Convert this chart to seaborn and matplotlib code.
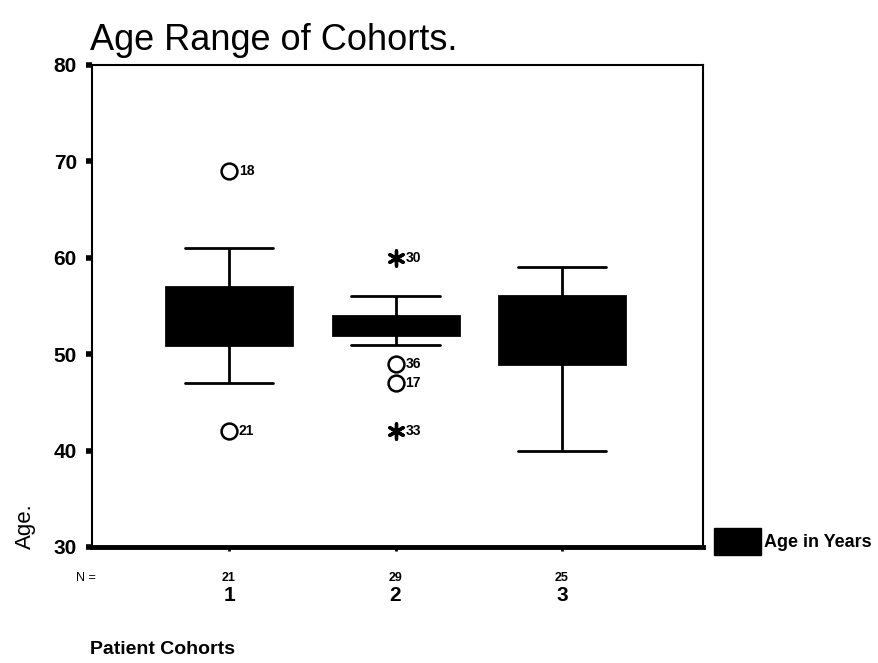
import pandas as pd
import matplotlib.pyplot as plt
from matplotlib.patches import Patch
import seaborn as sns

# ----------- DATA ------------
cohorts = ['1', '2', '3']

# ages per cohort (N = 21 / 29 / 25)
ages_1 = [42, 47, 48, 49, 50, 51, 52, 53, 53, 54, 54, 55, 55, 56, 56,
          57, 58, 59, 60, 61, 69]
ages_2 = [42, 47, 49, 51, 51, 52, 52, 52, 52, 53, 53, 53, 53, 53, 53,
          53, 53, 54, 54, 54, 54, 54, 54, 55, 55, 55, 56, 56, 60]
ages_3 = [40, 43, 45, 46, 47, 48, 49, 50, 51, 52, 52, 53, 53, 54, 54,
          55, 55, 55, 56, 57, 57, 58, 58, 59, 59]

# outliers (circles) and extremes (stars) with their case numbers
outlier_cohort = ['1', '1', '2', '2']
outlier_age = [69, 42, 49, 47]
outlier_case = ['18', '21', '36', '17']

extreme_cohort = ['2', '2']
extreme_age = [60, 42]
extreme_case = ['30', '33']

y_ticks = [30, 40, 50, 60, 70, 80]

# ----------- FIGURE ------------
sns.set_style('white')
plt.rcParams['font.family'] = ['Liberation Sans', 'DejaVu Sans']
plt.rcParams['text.color'] = 'black'
plt.rcParams['xtick.color'] = 'black'
plt.rcParams['ytick.color'] = 'black'
plt.rcParams['axes.labelcolor'] = 'black'

df = pd.DataFrame({
    'cohort': ['1'] * len(ages_1) + ['2'] * len(ages_2) + ['3'] * len(ages_3),
    'age': ages_1 + ages_2 + ages_3,
})
df_out = pd.DataFrame({'cohort': outlier_cohort, 'age': outlier_age})
df_ext = pd.DataFrame({'cohort': extreme_cohort, 'age': extreme_age})

fig = plt.figure(figsize=(8.79, 6.63), dpi=100)
ax = fig.add_axes([0.1047, 0.175, 0.6951, 0.727])

sns.boxplot(data=df, x='cohort', y='age', order=cohorts, ax=ax,
            width=0.757, whis=1.4, showfliers=False, color='black',
            linecolor='black', linewidth=2, saturation=1, capwidths=0.53)

sns.scatterplot(data=df_out, x='cohort', y='age', ax=ax, marker='o',
                s=130, facecolor='white', edgecolor='black', linewidth=1.8,
                zorder=4)
sns.scatterplot(data=df_ext, x='cohort', y='age', ax=ax, marker=(6, 2, 0),
                s=120, color='black', edgecolor='black', linewidth=2.4,
                zorder=4)

pos = {c: i for i, c in enumerate(cohorts)}
for c, a, lab in zip(outlier_cohort + extreme_cohort,
                     outlier_age + extreme_age,
                     outlier_case + extreme_case):
    ax.annotate(lab, (pos[c], a), xytext=(7, 0), textcoords='offset points',
                ha='left', va='center', fontsize=10, fontweight='bold')

ax.set_xlim(-0.823, 2.847)
ax.set_ylim(30, 80)
ax.set_yticks(y_ticks)
ax.set_yticklabels([str(t) for t in y_ticks], fontsize=15, fontweight='bold')
ax.tick_params(axis='y', direction='out', length=4, width=4, pad=7, left=True)
ax.set_xticks(range(len(cohorts)))
ax.set_xticklabels(cohorts, fontsize=15, fontweight='bold')
ax.tick_params(axis='x', direction='out', length=3, width=2, pad=25,
               bottom=True)
ax.set_xlabel('')
ax.set_ylabel('')

for side in ['left', 'top', 'right']:
    ax.spines[side].set_linewidth(1.5)
    ax.spines[side].set_color('black')
ax.spines['bottom'].set_linewidth(3.5)
ax.spines['bottom'].set_color('black')

# N = row
trans = ax.get_xaxis_transform()
ax.text(-0.026, -0.064, 'N =', transform=ax.transAxes, ha='left',
        va='center', fontsize=9)
for i, data in enumerate([ages_1, ages_2, ages_3]):
    ax.text(i, -0.064, str(len(data)), transform=trans, ha='center',
            va='center', fontsize=9, fontweight='bold')

fig.text(90 / 879, 1 - 50 / 663, 'Age Range of Cohorts.', fontsize=26,
         ha='left', va='baseline')
fig.text(25 / 879, 1 - 526 / 663, 'Age.', rotation=90, fontsize=16,
         ha='center', va='center')
fig.text(90 / 879, 1 - 650 / 663, 'Patient Cohorts', fontsize=14,
         fontweight='bold', ha='left', va='center')

fig.legend(handles=[Patch(facecolor='black', edgecolor='black')],
           labels=['Age in Years'], loc='lower left',
           bbox_to_anchor=(714 / 879, 1 - 555 / 663), frameon=False,
           handlelength=2.6, handleheight=1.9, handletextpad=0.15,
           borderpad=0, borderaxespad=0,
           prop={'size': 13, 'weight': 'bold'})

fig.savefig('out.png', dpi=100)
